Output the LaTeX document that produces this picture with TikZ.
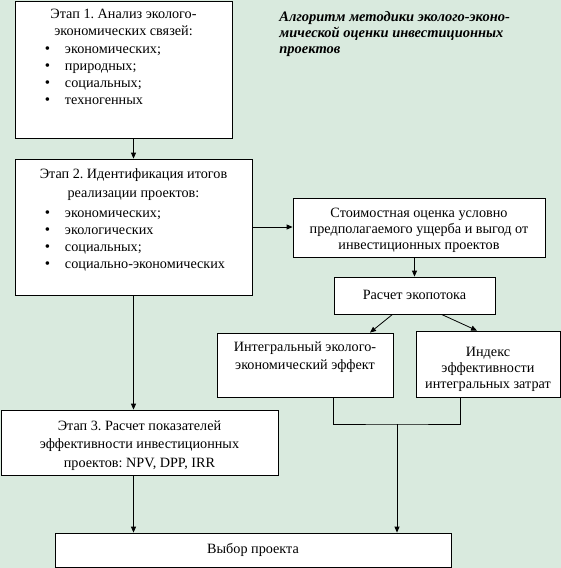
\documentclass[tikz,border=0pt]{standalone}
\usepackage{fontspec}
\setmainfont{Liberation Serif}
\usetikzlibrary{arrows.meta}
\definecolor{fon}{RGB}{217,234,222}
\newcommand\bul[1]{\par\hspace*{30pt}\makebox[20pt][l]{\fontsize{15}{17}\selectfont\textbullet}#1}
\newcommand\tekst[4]{\parbox[t][#2][t]{#1}{\vspace*{#3}\centering #4}}
\frenchspacing

\begin{document}
\begin{tikzpicture}[x=1pt, y=-1pt, line width=0.8pt, >={Triangle[length=6pt,width=5pt]},
  blok/.style={draw, fill=white, inner sep=0pt, align=center, font=\fontsize{14.2}{17}\selectfont}]
  \fill[fon] (0,0) rectangle (561,568);
  \useasboundingbox (0,0) rectangle (561,568);
  \node[blok] (etap1) at (123.5,69.5) {\parbox[t][137pt][t]{217pt}{\vspace*{8pt}\centering
    Этап 1. Анализ эколого-\\экономических связей:\par\raggedright\vspace{1pt}
    \bul{экономических;}\bul{природных;}\bul{социальных;}\bul{техногенных}}};
  \node[blok] (etap2) at (133.5,227) {\parbox[t][136pt][t]{237pt}{\vspace*{10pt}\centering
    Этап 2. Идентификация итогов\\[2pt]реализации проектов:\par\raggedright\vspace{3pt}
    \bul{экономических;}\bul{экологических}\bul{социальных;}\bul{социально-экономических}}};
  \node[blok] (otsenka) at (419,227.5) {\tekst{252pt}{59pt}{10pt}{\baselineskip=16pt
    Стоимостная оценка условно\\предполагаемого ущерба и выгод от\\инвестиционных проектов}};
  \node[blok, minimum width=161pt, minimum height=37pt] (ekopotok) at (414.5,295.5) {\raisebox{1.5pt}{Расчет экопотока}};
  \node[blok] (integr) at (305,365) {\tekst{176pt}{64pt}{9pt}{\baselineskip=18pt
    Интегральный эколого-\\экономический эффект}};
  \node[blok] (indeks) at (488,364) {\tekst{144pt}{66pt}{16.5pt}{\baselineskip=16pt
    Индекс\\эффективности\\интегральных затрат}};
  \node[blok] (etap3) at (139.5,442.5) {\tekst{277pt}{65pt}{10.5pt}{\baselineskip=18.5pt
    Этап 3. Расчет показателей\\эффективности инвестиционных\\проектов: NPV, DPP, IRR}};
  \node[blok, minimum width=396pt, minimum height=34pt] (vybor) at (253,550) {\raisebox{1.5pt}{Выбор проекта}};
  \node[anchor=north west, inner sep=0pt, align=left, font=\fontsize{14.5}{16}\selectfont\bfseries\itshape] (nazv) at (279,11)
    {Алгоритм методики эколого-эконо-\\мической оценки инвестиционных\\проектов};
  \coordinate (uzel) at (397,424);
  \draw[->] (etap1.south -| etap2.north) -- (etap2.north);
  \draw[->] (etap2.east) -- (etap2.east -| otsenka.west);
  \draw[->] (otsenka.south -| ekopotok.north) -- (ekopotok.north);
  \draw[->] ([xshift=-22pt]ekopotok.south) -- ([xshift=65pt]integr.north);
  \draw[->] ([xshift=27pt]ekopotok.south) -- ([xshift=-11pt]indeks.north);
  \draw[->] (etap2.south) -- (etap3.north -| etap2.south);
  \draw[->] (etap3.south -| etap2.south) -- (vybor.north -| etap2.south);
  \draw ([xshift=28pt]integr.south) |- (uzel) -| ([xshift=-28pt]indeks.south);
  \draw[->] (uzel) -- (uzel |- vybor.north);
\end{tikzpicture}
\end{document}
